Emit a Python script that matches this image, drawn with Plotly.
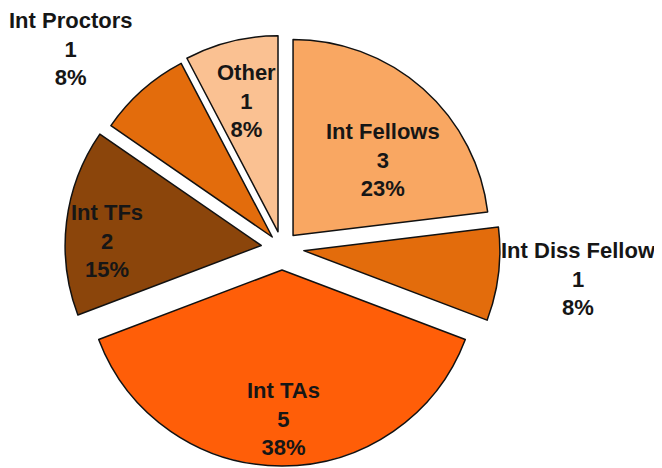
import plotly.graph_objects as go

labels = ["Int Fellows", "Int Diss Fellow", "Int TAs", "Int TFs", "Int Proctors", "Other"]
values = [3, 1, 5, 2, 1, 1]
colors = ["#F9A762", "#E36C0C", "#FF5E08", "#8B450B", "#E36C0C", "#FAC192"]
pulls = [0.085, 0.112, 0.112, 0.107, 0.075, 0.085]

# label centre positions in pixels (x from left, y from top) -- layout only
label_px = {
    "Int Fellows": (375, 152),
    "Int Diss Fellow": (570, 271),
    "Int TAs": (275, 411),
    "Int TFs": (99, 233),
    "Int Proctors": (62, 41),
    "Other": (238, 93),
}

W, H = 662, 468
total = sum(values)
FONT = "Liberation Sans, Arial, sans-serif"

# pie box (pixels): centre and side
cx, cy, side = 274, 240, 436

fig = go.Figure(go.Pie(
    labels=labels,
    values=values,
    sort=False,
    direction="clockwise",
    rotation=0,
    pull=pulls,
    marker=dict(colors=colors, line=dict(color="#111111", width=1.5)),
    textinfo="none",
    hoverinfo="label+value+percent",
    showlegend=False,
    domain=dict(
        x=[(cx - side / 2) / W, (cx + side / 2) / W],
        y=[(H - cy - side / 2) / H, (H - cy + side / 2) / H],
    ),
))

for lab, v in zip(labels, values):
    px, py = label_px[lab]
    fig.add_annotation(
        x=px / W, y=(H - py) / H, xref="paper", yref="paper",
        text=f"<b>{lab}<br>{v}<br>{round(100 * v / total)}%</b>",
        showarrow=False, xanchor="center", yanchor="middle",
        font=dict(family=FONT, size=22, color="#161616"),
    )

fig.update_layout(
    width=W, height=H,
    margin=dict(l=0, r=0, t=0, b=0),
    paper_bgcolor="white", plot_bgcolor="white",
)

fig.write_html("out.html")
